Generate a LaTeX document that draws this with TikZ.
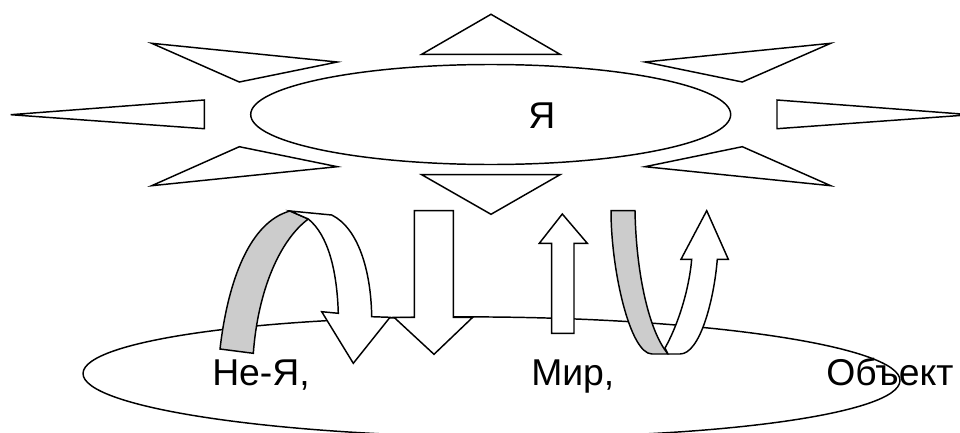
\documentclass[tikz,border=0pt]{standalone}
\usepackage{fontspec}
\setmainfont{Liberation Sans}
\usetikzlibrary{shapes.geometric}
\definecolor{ribbongray}{RGB}{204,204,204}
\begin{document}
\begin{tikzpicture}[x=0.75pt,y=-0.75pt,
  outline/.style={draw=black,line width=1.1pt,fill=white},
  ribbon/.style={draw=black,line width=1.1pt,fill=ribbongray},
  oval/.style={ellipse,draw=black,line width=1.1pt,inner sep=0pt},
  lbl/.style={font=\fontsize{28}{33}\selectfont,inner sep=0pt,anchor=base west}]
\useasboundingbox (0,0) rectangle (960,432);
\clip (0,0) rectangle (960,432);
% lower ellipse
\node[oval,minimum width=612.75pt,minimum height=90pt,rotate=-0.5] (world) at (491.5,377) {};
% upper ellipse
\node[oval,minimum width=360pt,minimum height=75pt] (self) at (490.7,114.5) {};
\node[lbl] (ya) at (528,128.3) {Я};
% rays
\draw[outline] (151.7,43.3) -- (337.3,62) -- (239.3,82) -- cycle;
\draw[outline] (10.7,114.7) -- (204.3,100) -- (204.3,128.7) -- cycle;
\draw[outline] (151.7,185.7) -- (337.3,166.7) -- (239.3,146.7) -- cycle;
\draw[outline] (421.7,54.3) -- (491,14.3) -- (560,54.3) -- cycle;
\draw[outline] (421.7,174.7) -- (560,174.7) -- (491,214.3) -- cycle;
\draw[outline] (645,62) -- (830.7,43.3) -- (742.3,82) -- cycle;
\draw[outline] (777,100) -- (971,114.7) -- (777,128.7) -- cycle;
\draw[outline] (645,166.7) -- (830.7,185.7) -- (742.3,146.7) -- cycle;
% labels
\node[lbl] (neya) at (212,385) {Не-Я,};
\node[lbl] (mir) at (531,385) {Мир,};
\node[lbl] (obj) at (826,385) {Объект};
% straight down arrow
\draw[outline] (414.3,210.7) -- (453.3,210.7) -- (453.3,317.3) -- (472.7,317.3) -- (434,354.3) -- (394,317.3) -- (414.3,317.3) -- cycle;
% straight up arrow
\draw[outline] (551.7,333.3) -- (551.7,243.3) -- (539.3,243.3) -- (562.3,214) -- (587.3,243.3) -- (574,243.3) -- (574,333.3) -- cycle;
% left curved arrow
\draw[ribbon] (220,349) .. controls (228,280) and (250,222) .. (290,211) -- (308.3,219) .. controls (280,240) and (258,290) .. (253.3,353.3) -- cycle;
\draw[outline] (290,211) -- (331.7,215) .. controls (358,228) and (371,270) .. (371.7,316.7) -- (390,317.3) -- (353.3,363.3) -- (321.7,311.7) -- (338.3,313.3) .. controls (337,270) and (328,235) .. (308.3,219) -- cycle;
% right U arrow
\draw[ribbon] (611,210.7) -- (635,210.7) .. controls (636,270) and (648,330) .. (668,354) -- (652,354) .. controls (630,354) and (611,270) .. cycle;
\draw[outline] (665,348) .. controls (678,325) and (689,290) .. (691.7,259.3) -- (681,259.3) -- (706.7,210.7) -- (728.3,259.3) -- (717.3,259.3) .. controls (714,300) and (700,354) .. (680,354) -- (668,354) -- cycle;
\end{tikzpicture}
\end{document}
